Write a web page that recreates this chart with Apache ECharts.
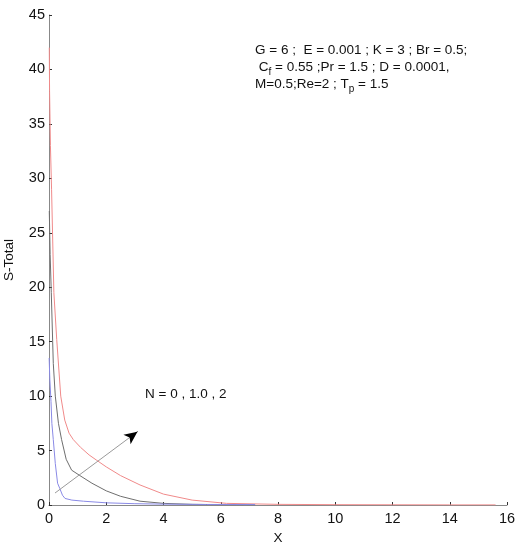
<!DOCTYPE html>
<html>
<head>
<meta charset="utf-8">
<script src="https://cdn.jsdelivr.net/npm/echarts@6/dist/echarts.min.js"></script>
<style>
  html, body { margin: 0; padding: 0; background: #fff; }
  #chart { width: 522px; height: 550px; }
</style>
</head>
<body>
<div id="chart"></div>
<script>
// N = 2 (red)
const redX = [0.01, 0.02, 0.05, 0.09, 0.17, 0.27, 0.41, 0.55, 0.7, 0.85, 1.1, 1.4, 1.67, 2.0, 2.5, 3.18, 4.0, 5.0, 6.2, 8, 10, 12, 14, 15.6]
const redY = [42, 38, 33, 29, 19.5, 15.2, 10, 7.8, 6.6, 6.0, 5.3, 4.6, 4.1, 3.5, 2.7, 1.84, 1.0, 0.45, 0.15, 0.06, 0.03, 0.02, 0.01, 0.01]
// N = 1.0 (grey)
const greyX = [0.01, 0.04, 0.08, 0.15, 0.22, 0.33, 0.44, 0.6, 0.79, 1.08, 1.5, 2.0, 2.5, 3.18, 4.0, 5.0, 6.0, 7.2]
const greyY = [27, 23, 19.5, 13, 10, 7.5, 6.0, 4.2, 3.2, 2.7, 2.0, 1.3, 0.8, 0.35, 0.15, 0.06, 0.03, 0.02]
// N = 0 (blue)
const blueX = [0.005, 0.03, 0.07, 0.1, 0.15, 0.22, 0.3, 0.38, 0.47, 0.56, 0.8, 1.2, 2.0, 3.0, 4.0, 5.5, 7.2]
const blueY = [13.5, 11.5, 9.5, 7.5, 6.0, 3.8, 2.0, 1.5, 0.9, 0.6, 0.45, 0.35, 0.2, 0.12, 0.08, 0.05, 0.04]

// arrow (data coords)
const arrowFrom = [0.21, 1.1]
const arrowTo = [3.09, 6.73]

const pair = (xs, ys) => xs.map((x, i) => [x, ys[i]])

const chart = echarts.init(document.getElementById('chart'))
const font = 'Liberation Sans, Arial, sans-serif'

const axisCommon = {
  axisLine: { show: true, lineStyle: { color: '#888', width: 1 } },
  axisTick: { show: true, inside: true, length: 3, lineStyle: { color: '#333' } },
  splitLine: { show: false },
  axisLabel: { color: '#111', fontSize: 14.5, fontFamily: font },
  nameTextStyle: { color: '#111', fontSize: 13.5, fontFamily: font }
}

// head segment so the arrowhead can be black
const headStart = [
  arrowTo[0] - (arrowTo[0] - arrowFrom[0]) * 0.04,
  arrowTo[1] - (arrowTo[1] - arrowFrom[1]) * 0.04
]

const option = {
  animation: false,
  grid: { left: 49, right: 15, top: 15, bottom: 45, containLabel: false, outerBoundsMode: 'none' },
  xAxis: Object.assign({}, axisCommon, {
    type: 'value',
    min: 0,
    max: 16,
    interval: 2,
    name: 'X',
    nameLocation: 'middle',
    nameGap: 25,
    axisLabel: Object.assign({}, axisCommon.axisLabel, { margin: 6 })
  }),
  yAxis: Object.assign({}, axisCommon, {
    type: 'value',
    min: 0,
    max: 45,
    interval: 5,
    name: 'S-Total',
    nameLocation: 'middle',
    nameGap: 33,
    axisLabel: Object.assign({}, axisCommon.axisLabel, { margin: 4 })
  }),
  series: [
    {
      name: 'N=2',
      type: 'line',
      data: pair(redX, redY),
      showSymbol: false,
      lineStyle: { color: '#f08a8a', width: 1 }
    },
    {
      name: 'N=1.0',
      type: 'line',
      data: pair(greyX, greyY),
      showSymbol: false,
      lineStyle: { color: '#6e6e6e', width: 1 }
    },
    {
      name: 'N=0',
      type: 'line',
      data: pair(blueX, blueY),
      showSymbol: false,
      lineStyle: { color: '#8a8ae6', width: 1 },
      markLine: {
        silent: true,
        animation: false,
        label: { show: false },
        data: [
          [
            { coord: arrowFrom, symbol: 'none', lineStyle: { color: '#9a9a9a', width: 1, type: 'solid' } },
            { coord: arrowTo, symbol: 'none' }
          ],
          [
            { coord: headStart, symbol: 'none', lineStyle: { color: '#000', width: 1, type: 'solid' } },
            { coord: arrowTo, symbol: 'arrow', symbolSize: [9, 13] }
          ]
        ]
      }
    }
  ],
  graphic: [
    {
      type: 'text',
      left: 145,
      top: 387,
      style: { text: 'N = 0 , 1.0 , 2', fontSize: 13.5, fontFamily: font, fill: '#111' }
    },
    {
      type: 'text',
      left: 255,
      top: 42,
      style: {
        text: 'G = 6 ;  E = 0.001 ; K = 3 ; Br = 0.5;\n C{sub|f} = 0.55 ;Pr = 1.5 ; D = 0.0001,\nM=0.5;Re=2 ; T{sub|p} = 1.5',
        fontSize: 13.5,
        fontFamily: font,
        fill: '#111',
        lineHeight: 17,
        rich: {
          sub: { fontSize: 10, fontFamily: font, fill: '#111', padding: [10, 0, 0, 0], lineHeight: 17 }
        }
      }
    }
  ]
}

chart.setOption(option)
</script>
</body>
</html>
